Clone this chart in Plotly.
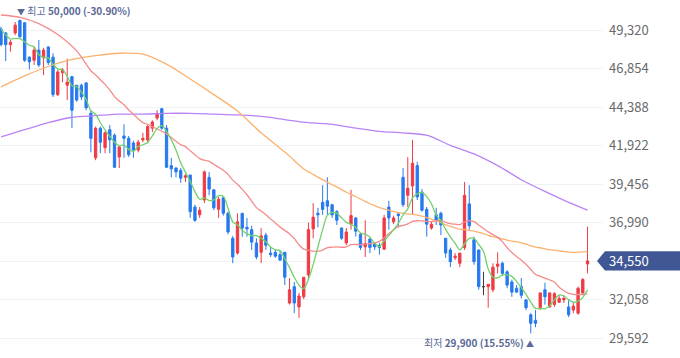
import plotly.graph_objects as go
import pandas as pd

# ---------------- data (daily candles, oldest -> newest) ----------------
opens = [49400, 49150, 48400, 49150, 49950, 49800, 47600, 47400, 48050, 47550,
         48250, 47600, 45200, 46600, 45800, 46350, 45800, 45800, 45950, 44000,
         41150, 43050, 41800, 42950, 42600, 41200, 42550, 42400, 42100, 41650,
         42300, 42300, 43050, 43700, 44300, 43050, 40650, 40500, 40350, 39900,
         40050, 38000, 37500, 38450, 39900, 39100, 37850, 38600, 37600, 36000,
         35050, 37600, 36700, 36550, 35700, 35100, 36200, 35050, 35100, 34950,
         35100, 31850, 32900, 31600, 32250, 33650, 36600, 37600, 38300, 38400,
         38150, 37700, 36650, 35700, 36900, 37300, 36250, 35450, 35950, 35650,
         35550, 35300, 38000, 37050, 37550, 39900, 38750, 39350, 40650, 38950,
         37850, 36650, 37500, 37600, 36000, 35250, 34750, 34400, 35400, 38200,
         35900, 35250, 32900, 32900, 32700, 34200, 34400, 33850, 33200, 32800,
         32900, 32050, 31100, 30750, 31550, 32700, 31600, 31750, 31900, 32050,
         31600, 31400, 31200, 32500, 34350]
highs = [49550, 49200, 48700, 49850, 50000, 49850, 47650, 48250, 48700, 48200,
         48300, 47850, 46800, 46900, 47500, 46400, 45800, 45900, 46000, 44200,
         43150, 43150, 42850, 43250, 42700, 41950, 43300, 42550, 42250, 42300,
         42750, 43250, 43550, 44200, 44350, 43250, 41150, 40550, 40500, 40100,
         40050, 38150, 38000, 40350, 40250, 39150, 38650, 38600, 37700, 36150,
         37600, 37600, 37300, 36800, 36000, 36650, 36350, 35450, 35250, 35200,
         35100, 33450, 33200, 32500, 33500, 37000, 38250, 37950, 39400, 39900,
         38200, 37800, 36700, 36650, 39100, 37350, 36350, 37150, 36000, 35700,
         35700, 37500, 38400, 37450, 37600, 40500, 41200, 42300, 40900, 39150,
         38000, 37050, 37950, 37700, 36000, 35400, 35050, 35050, 39600, 39400,
         36100, 35250, 33850, 33050, 34400, 35100, 34500, 33950, 33350, 33000,
         33450, 32100, 31200, 31400, 32500, 33150, 32500, 32550, 32350, 32350,
         32050, 31850, 32900, 33450, 36750]
lows = [48300, 47350, 47950, 49000, 48850, 47300, 46800, 47100, 46950, 46450,
        47100, 45050, 45100, 46000, 44850, 43050, 44750, 44850, 44200, 41500,
        41000, 41450, 41450, 41450, 40500, 40500, 41150, 41200, 41150, 41500,
        42150, 42150, 42800, 43550, 42950, 40500, 39900, 39900, 39550, 39600,
        37300, 37050, 37300, 38250, 38750, 37800, 37300, 37450, 36250, 34400,
        34950, 36100, 36100, 35250, 34650, 34400, 35250, 34800, 34750, 34550,
        33000, 31750, 31200, 30900, 32100, 33350, 36000, 36700, 37500, 37500,
        37300, 36850, 35900, 35550, 36550, 36100, 35250, 34800, 35050, 35250,
        34950, 35250, 36550, 36900, 36700, 38000, 38000, 37500, 38450, 37700,
        36100, 36550, 36850, 36200, 34750, 34150, 34600, 34150, 35250, 36550,
        34300, 32700, 32350, 31550, 32550, 33750, 33650, 32800, 32250, 32500,
        32150, 31400, 29900, 30300, 31400, 31750, 31550, 31600, 31850, 31850,
        30950, 31200, 31100, 32350, 33750]
closes = [48400, 48400, 48550, 49650, 48900, 47400, 47300, 48050, 47100, 48050,
          47250, 45200, 46650, 46800, 46000, 44200, 44850, 45050, 44350, 42400,
          43050, 42150, 42750, 42300, 40550, 41850, 42400, 41350, 41650, 42150,
          42400, 43150, 43450, 44000, 43050, 40550, 40450, 40250, 39850, 40000,
          37700, 37150, 37800, 40250, 39150, 37950, 38500, 37600, 36400, 34800,
          37050, 36650, 36600, 35750, 34800, 36150, 35550, 34950, 34850, 34600,
          33500, 32700, 31850, 32300, 33500, 36550, 37350, 37500, 37850, 38050,
          37500, 37150, 36000, 36400, 37450, 36450, 35400, 35650, 35400, 35450,
          35400, 37300, 37300, 37300, 37450, 38150, 39200, 40800, 38650, 37800,
          36900, 36900, 37150, 36850, 35050, 34500, 34850, 35050, 38750, 36800,
          34500, 32900, 32900, 33050, 34150, 34350, 33750, 33000, 32550, 32550,
          32350, 31550, 30550, 30550, 32500, 32250, 32500, 32450, 32150, 32150,
          31100, 31650, 32800, 33350, 34550]

# moving-average values before enough history is visible
ma5_head_idx = [0, 1, 2, 3]
ma5_head = [49400, 49020, 48760, 48800]
ma20_head_idx = [0, 4, 8, 12, 16]
ma20_head = [50300, 50150, 49750, 49050, 48000]
ma60_head_idx = [0, 5, 10, 15, 20, 25, 30, 35, 40, 45, 50, 55]
ma60_head = [45700, 46400, 47000, 47450, 47700, 47850, 47800, 47150, 46200, 45200, 44150, 42750]
ma120_idx = [0, 5, 10, 15, 20, 25, 30, 35, 40, 45, 50, 55, 60, 65, 70, 75, 80,
             85, 90, 95, 100, 105, 110, 115, 120, 124]
ma120 = [42500, 42950, 43400, 43750, 43850, 43950, 43950, 44000, 44000, 43950,
         43900, 43800, 43600, 43400, 43300, 43050, 42850, 42750, 42600, 41950,
         41400, 40650, 39750, 39000, 38300, 37800]

y_tick_vals = [29592, 32058, 34524, 36990, 39456, 41922, 44388, 46854, 49320]
y_tick_text = ["29,592", "32,058", "", "36,990", "39,456", "41,922", "44,388", "46,854", "49,320"]

high_idx, high_price = 4, 50000
low_idx, low_price = 112, 29900
last_price = closes[-1]

# ---------------- styling ----------------
UP = "#ef3b45"
DOWN = "#2779ef"
FLAT = "#3a3a3a"
C_MA5 = "#72d26c"
C_MA20 = "#f68b8b"
C_MA60 = "#fbb26e"
C_MA120 = "#b983f6"
LABEL_BG = "#3f5794"
ANNO = "#5a6996"
FONT = "Noto Sans CJK KR"

n = len(closes)
idx = list(range(n))
s = pd.Series(closes, dtype=float)


def ma_line(window, head_idx, head_vals):
    roll = s.rolling(window).mean()
    xs = list(head_idx) + list(range(window - 1, n))
    ys = list(head_vals) + [float(v) for v in roll.iloc[window - 1:]]
    return xs, ys


fig = go.Figure()

x120, y120 = ma120_idx, ma120
x60, y60 = ma_line(60, ma60_head_idx, ma60_head)
x20, y20 = ma_line(20, ma20_head_idx, ma20_head)
x5, y5 = ma_line(5, ma5_head_idx, ma5_head)

for xs, ys, col in [(x120, y120, C_MA120), (x60, y60, C_MA60), (x20, y20, C_MA20), (x5, y5, C_MA5)]:
    fig.add_trace(go.Scatter(x=xs, y=ys, mode="lines", hoverinfo="skip",
                             line=dict(color=col, width=1.3, shape="spline", smoothing=0.8)))

flat = [o == c for o, c in zip(opens, closes)]


def pick(arr, keep):
    return [v if k else None for v, k in zip(arr, keep)]


main_keep = [not f for f in flat]
fig.add_trace(go.Candlestick(
    x=idx, open=pick(opens, main_keep), high=pick(highs, main_keep),
    low=pick(lows, main_keep), close=pick(closes, main_keep),
    increasing=dict(line=dict(color=UP, width=1), fillcolor=UP),
    decreasing=dict(line=dict(color=DOWN, width=1), fillcolor=DOWN),
    whiskerwidth=0, hoverinfo="skip"))
fig.add_trace(go.Candlestick(
    x=idx, open=pick(opens, flat), high=pick(highs, flat),
    low=pick(lows, flat), close=pick(closes, flat),
    increasing=dict(line=dict(color=FLAT, width=1), fillcolor=FLAT),
    decreasing=dict(line=dict(color=FLAT, width=1), fillcolor=FLAT),
    whiskerwidth=0, hoverinfo="skip"))

hi_pct = (last_price - high_price) / high_price * 100
lo_pct = (last_price - low_price) / low_price * 100

tri_dn = '<span style="font-size:8px">▼</span>'
tri_up = '<span style="font-size:8px">▲</span>'
annos = [
    dict(x=high_idx, y=high_price, xref="x", yref="y", showarrow=False,
         xanchor="left", yanchor="bottom", xshift=-5, yshift=0,
         text=f"{tri_dn} 최고 <b>{high_price:,} ({hi_pct:.2f}%)</b>",
         font=dict(family=FONT, size=10, color=ANNO)),
    dict(x=low_idx, y=low_price, xref="x", yref="y", showarrow=False,
         xanchor="right", yanchor="top", xshift=5, yshift=0,
         text=f"최저 <b>{low_price:,} ({lo_pct:.2f}%)</b> {tri_up}",
         font=dict(family=FONT, size=10, color=ANNO)),
    dict(x=1, y=last_price, xref="paper", yref="y", showarrow=False,
         xanchor="left", yanchor="middle", xshift=4,
         text=f"{last_price:,}",
         font=dict(family=FONT, size=13, color="white")),
]

shapes = [
    dict(type="path", xref="paper", yref="y", xsizemode="pixel", ysizemode="pixel",
         xanchor=1, yanchor=last_price,
         path="M -6,0 L 2,9.7 L 80,9.7 L 80,-9.7 L 2,-9.7 Z",
         fillcolor=LABEL_BG, line=dict(width=0), layer="above"),
]

fig.update_layout(
    width=680, height=358,
    margin=dict(l=0, r=77, t=0, b=0),
    paper_bgcolor="white", plot_bgcolor="white",
    showlegend=False, hovermode=False,
    xaxis=dict(range=[-0.21, 127.27], visible=False, showgrid=False,
               rangeslider=dict(visible=False), fixedrange=True),
    yaxis=dict(side="right", range=[28330, 51260],
               tickvals=y_tick_vals, ticktext=y_tick_text,
               showgrid=True, gridcolor="#f1f2f5", gridwidth=1,
               zeroline=False, showline=False, ticks="",
               ticklabelstandoff=5,
               tickfont=dict(family=FONT, size=13, color="#6a6a6a"),
               fixedrange=True),
    annotations=annos, shapes=shapes,
)

fig.write_html("out.html", config={"displayModeBar": False},
               post_script="document.body.style.margin='0';document.body.style.overflow='hidden';")
